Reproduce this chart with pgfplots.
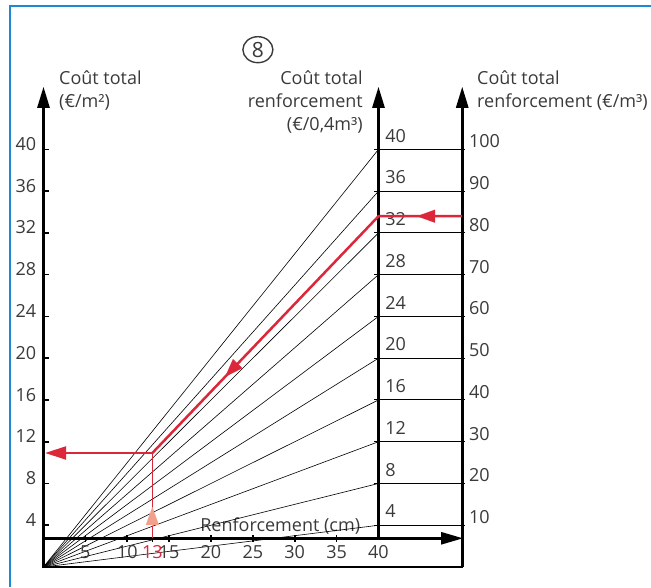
\documentclass[border=0pt]{standalone}
\usepackage{pgfplots}
\pgfplotsset{compat=1.18}
\usepackage{fontspec}
\setmainfont{Open Sans}
\usetikzlibrary{arrows.meta,shapes.geometric}
\definecolor{txt}{HTML}{3A3A3A}
\definecolor{nred}{HTML}{DC2639}
\definecolor{salmon}{HTML}{F2A08C}
\definecolor{frameblue}{HTML}{1E88D0}
\tikzset{lab/.style={text=txt, inner sep=0pt, font=\fontsize{18}{22}\selectfont}}
\begin{document}
\begin{tikzpicture}
\begin{axis}[scale only axis, width=651pt, height=587pt,
  xmin=-5.194, xmax=72.54, ymin=-1.916, ymax=54.31,
  axis lines=none, clip=false]
% frame
\addplot[frameblue, line width=2pt] coordinates {(-4.0,-1.916) (-4.0,53.74) (72.54,53.74)};
% texts
\node[lab, anchor=base west] at (axis cs:18.7,3.4) {Renforcement (cm)};
\node[lab, anchor=base west] at (axis cs:1.85,46.17) {Coût total};
\node[lab, anchor=base west] at (axis cs:1.85,44.0) {(€/m²)};
\node[lab, anchor=base east] at (axis cs:38.15,46.17) {Coût total};
\node[lab, anchor=base east] at (axis cs:38.15,44.0) {renforcement};
\node[lab, anchor=base east] at (axis cs:38.15,41.8) {(€/0,4m³)};
\node[lab, anchor=base west] at (axis cs:51.76,46.17) {Coût total};
\node[lab, anchor=base west] at (axis cs:51.76,44.0) {renforcement (€/m³)};
\node[lab, draw=txt, line width=1.4pt, ellipse, minimum width=30pt, minimum height=26pt, font=\fontsize{21}{22}\selectfont] at (axis cs:25.6,49.55) {8};
% fan lines
\addplot[black, line width=0.6pt] coordinates {(0,0) (40,4)};
\addplot[black, line width=0.6pt] coordinates {(0,0) (40,8)};
\addplot[black, line width=0.6pt] coordinates {(0,0) (40,12)};
\addplot[black, line width=0.6pt] coordinates {(0,0) (40,16)};
\addplot[black, line width=0.6pt] coordinates {(0,0) (40,20)};
\addplot[black, line width=0.6pt] coordinates {(0,0) (40,24)};
\addplot[black, line width=0.6pt] coordinates {(0,0) (40,28)};
\addplot[black, line width=0.6pt] coordinates {(0,0) (40,32)};
\addplot[black, line width=0.6pt] coordinates {(0,0) (40,36)};
\addplot[black, line width=0.6pt] coordinates {(0,0) (40,40)};
% reference lines
\addplot[black, line width=1pt] coordinates {(39.5,4) (50.35,4)};
\addplot[black, line width=1pt] coordinates {(39.5,8) (50.35,8)};
\addplot[black, line width=1pt] coordinates {(39.5,12) (50.35,12)};
\addplot[black, line width=1pt] coordinates {(39.5,16) (50.35,16)};
\addplot[black, line width=1pt] coordinates {(39.5,20) (50.35,20)};
\addplot[black, line width=1pt] coordinates {(39.5,24) (50.35,24)};
\addplot[black, line width=1pt] coordinates {(39.5,28) (50.35,28)};
\addplot[black, line width=1pt] coordinates {(39.5,32) (50.35,32)};
\addplot[black, line width=1pt] coordinates {(39.5,36) (50.35,36)};
\addplot[black, line width=1pt] coordinates {(39.5,40) (50.35,40)};
% left ticks
\addplot[black, line width=1.6pt] coordinates {(0,4) (0.6,4)};
\addplot[black, line width=1.6pt] coordinates {(0,8) (0.6,8)};
\addplot[black, line width=1.6pt] coordinates {(0,12) (0.6,12)};
\addplot[black, line width=1.6pt] coordinates {(0,16) (0.6,16)};
\addplot[black, line width=1.6pt] coordinates {(0,20) (0.6,20)};
\addplot[black, line width=1.6pt] coordinates {(0,24) (0.6,24)};
\addplot[black, line width=1.6pt] coordinates {(0,28) (0.6,28)};
\addplot[black, line width=1.6pt] coordinates {(0,32) (0.6,32)};
\addplot[black, line width=1.6pt] coordinates {(0,36) (0.6,36)};
\addplot[black, line width=1.6pt] coordinates {(0,40) (0.6,40)};
% bottom ticks
\addplot[black, line width=1.6pt] coordinates {(5,2.4) (5,3.1)};
\addplot[black, line width=1.6pt] coordinates {(10,2.4) (10,3.1)};
\addplot[black, line width=1.6pt] coordinates {(13,2.4) (13,3.1)};
\addplot[black, line width=1.6pt] coordinates {(15,2.4) (15,3.1)};
\addplot[black, line width=1.6pt] coordinates {(20,2.4) (20,3.1)};
\addplot[black, line width=1.6pt] coordinates {(25,2.4) (25,3.1)};
\addplot[black, line width=1.6pt] coordinates {(30,2.4) (30,3.1)};
\addplot[black, line width=1.6pt] coordinates {(35,2.4) (35,3.1)};
% axes
\addplot[black, line width=2.6pt] coordinates {(-0.15,0) (50.15,0)};
\addplot[black, line width=2.6pt, -{Triangle[length=21pt,width=12pt]}] coordinates {(0,0) (0,46)};
\addplot[black, line width=2.6pt, -{Triangle[length=21pt,width=12pt]}] coordinates {(40,2.75) (40,46)};
\addplot[black, line width=2.6pt, -{Triangle[length=21pt,width=12pt]}] coordinates {(50,0) (50,46)};
\addplot[black, line width=2.6pt, -{Triangle[length=22pt,width=12pt]}] coordinates {(0,2.75) (50.1,2.75)};
% tick labels
\node[lab, anchor=base east] at (axis cs:-0.85,3.9) {4};
\node[lab, anchor=base east] at (axis cs:-0.85,7.9) {8};
\node[lab, anchor=base east] at (axis cs:-0.85,11.9) {12};
\node[lab, anchor=base east] at (axis cs:-0.85,15.9) {16};
\node[lab, anchor=base east] at (axis cs:-0.85,19.9) {20};
\node[lab, anchor=base east] at (axis cs:-0.85,23.9) {24};
\node[lab, anchor=base east] at (axis cs:-0.85,27.9) {28};
\node[lab, anchor=base east] at (axis cs:-0.85,31.9) {32};
\node[lab, anchor=base east] at (axis cs:-0.85,35.9) {36};
\node[lab, anchor=base east] at (axis cs:-0.85,39.9) {40};
\node[lab, anchor=base west] at (axis cs:40.8,4.7) {4};
\node[lab, anchor=base west] at (axis cs:40.8,8.7) {8};
\node[lab, anchor=base west] at (axis cs:40.8,12.7) {12};
\node[lab, anchor=base west] at (axis cs:40.8,16.7) {16};
\node[lab, anchor=base west] at (axis cs:40.8,20.7) {20};
\node[lab, anchor=base west] at (axis cs:40.8,24.7) {24};
\node[lab, anchor=base west] at (axis cs:40.8,28.7) {28};
\node[lab, anchor=base west] at (axis cs:40.8,32.7) {32};
\node[lab, anchor=base west] at (axis cs:40.8,36.7) {36};
\node[lab, anchor=base west] at (axis cs:40.8,40.7) {40};
\node[lab, anchor=base west] at (axis cs:50.8,4.15) {10};
\node[lab, anchor=base west] at (axis cs:50.8,8.15) {20};
\node[lab, anchor=base west] at (axis cs:50.8,12.15) {30};
\node[lab, anchor=base west] at (axis cs:50.8,16.15) {40};
\node[lab, anchor=base west] at (axis cs:50.8,20.15) {50};
\node[lab, anchor=base west] at (axis cs:50.8,24.15) {60};
\node[lab, anchor=base west] at (axis cs:50.8,28.15) {70};
\node[lab, anchor=base west] at (axis cs:50.8,32.15) {80};
\node[lab, anchor=base west] at (axis cs:50.8,36.15) {90};
\node[lab, anchor=base west] at (axis cs:50.8,40.15) {100};
\node[lab, anchor=base] at (axis cs:5,0.85) {5};
\node[lab, anchor=base] at (axis cs:10,0.85) {10};
\node[lab, anchor=base, text=nred] at (axis cs:13,0.85) {13};
\node[lab, anchor=base] at (axis cs:15,0.85) {15};
\node[lab, anchor=base] at (axis cs:20,0.85) {20};
\node[lab, anchor=base] at (axis cs:25,0.85) {25};
\node[lab, anchor=base] at (axis cs:30,0.85) {30};
\node[lab, anchor=base] at (axis cs:35,0.85) {35};
\node[lab, anchor=base] at (axis cs:40,0.85) {40};
% red reading path
\addplot[nred, line width=1pt] coordinates {(13,2.75) (13,10.92)};
\addplot[salmon, line width=0.1pt, -{Triangle[length=18pt,width=13pt]}] coordinates {(13,4.0) (13,5.75)};
\addplot[nred, line width=2.5pt] coordinates {(50,33.6) (40,33.6) (13,10.92)};
\addplot[nred, line width=2.5pt, -{Triangle[length=21pt,width=13pt]}] coordinates {(13,10.92) (0.2,10.92)};
\addplot[nred, line width=0.1pt, -{Triangle[length=18pt,width=13pt]}] coordinates {(46.6,33.6) (44.6,33.6)};
\addplot[nred, line width=0.1pt, -{Triangle[length=18pt,width=13pt]}] coordinates {(23.7,19.91) (21.7,18.23)};
\end{axis}
\pgfresetboundingbox
\path (current axis.south west) rectangle (current axis.north east);
\end{tikzpicture}
\end{document}
